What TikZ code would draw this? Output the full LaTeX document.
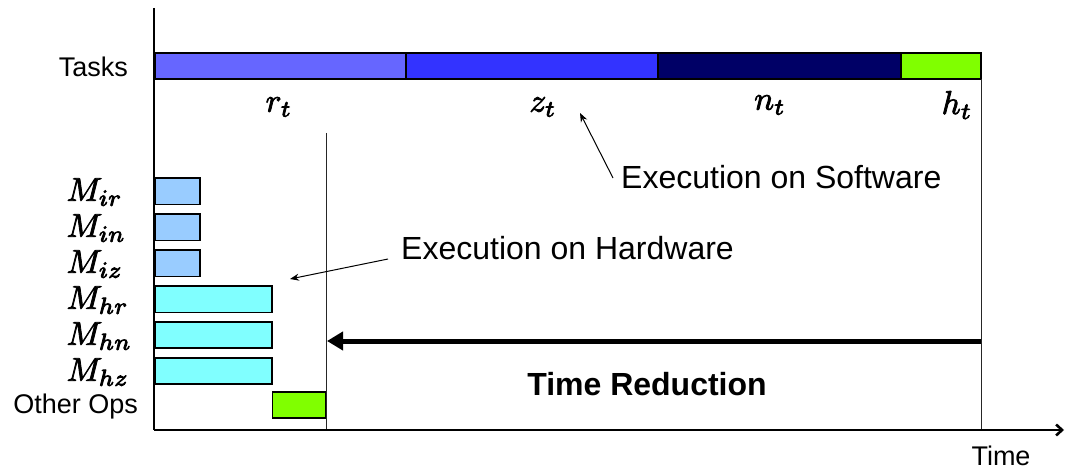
\RequirePackage{fix-cm}
\documentclass[tikz,border=0pt]{standalone}
\usepackage{fontspec}
\newfontfamily\arial{Liberation Sans}
\usetikzlibrary{arrows.meta}

\definecolor{rcol}{HTML}{6666FF}
\definecolor{zcol}{HTML}{3333FF}
\definecolor{ncol}{HTML}{000066}
\definecolor{hcol}{HTML}{80FF00}
\definecolor{icol}{HTML}{99CCFF}
\definecolor{mcol}{HTML}{80FFFF}

% slightly heavier glyphs: fill and stroke the outlines
\newcommand{\heavy}[1]{\special{pdf:literal direct 2 Tr 0.25 w}#1\special{pdf:literal direct 0 Tr}}

\tikzset{
  bar/.style={draw=black, line width=1.5pt},
  axis/.style={line width=2.6pt},
  guide/.style={line width=0.9pt, draw=black!85},
  note/.style={line width=1pt, -{Stealth[length=9pt,width=7pt]}},
  rowlabel/.style={anchor=east, inner sep=0pt},
  sans/.style={font=\arial\fontsize{27}{32}\selectfont},
  bigsans/.style={font=\arial\fontsize{32}{38}\selectfont},
  mathlbl/.style={font=\fontsize{10}{12}\selectfont, scale=3.3, inner sep=0pt},
}

\begin{document}
\begin{tikzpicture}[x=1pt, y=-1pt]
  \useasboundingbox (0,0) rectangle (1065,473);

  % task bar: software execution
  \fill[rcol] (155,53) rectangle (406,79);
  \fill[zcol] (406,53) rectangle (658,79);
  \fill[ncol] (658,53) rectangle (901,79);
  \fill[hcol] (901,53) rectangle (981,79);
  \draw[bar] (155,53) rectangle (981,79);
  \draw[bar] (406,53) -- (406,79) (658,53) -- (658,79) (901,53) -- (901,79);

  \node[mathlbl] (rt) at (279,107) {\heavy{$r_t$}};
  \node[mathlbl] (zt) at (543,107) {\heavy{$z_t$}};
  \node[mathlbl] (nt) at (770,105) {\heavy{$n_t$}};
  \node[mathlbl] (ht) at (957,105) {\heavy{$h_t$}};

  % hardware operations
  \draw[bar, fill=icol] (155,178) rectangle (200,204.5);
  \draw[bar, fill=icol] (155,214) rectangle (200,240.5);
  \draw[bar, fill=icol] (155,250) rectangle (200,276.5);
  \draw[bar, fill=mcol] (155,286) rectangle (272,312.5);
  \draw[bar, fill=mcol] (155,322) rectangle (272,348);
  \draw[bar, fill=mcol] (155,358) rectangle (272,384);
  \draw[bar, fill=hcol] (272.5,392) rectangle (326,418);

  % row labels
  \node[rowlabel, sans] (tasks) at (128,67) {Tasks};
  \node[mathlbl, anchor=west] (mir) at (66,192) {\heavy{$M_{ir}$}};
  \node[mathlbl, anchor=west] (min) at (66,228) {\heavy{$M_{in}$}};
  \node[mathlbl, anchor=west] (miz) at (66,264) {\heavy{$M_{iz}$}};
  \node[mathlbl, anchor=west] (mhr) at (66,300) {\heavy{$M_{hr}$}};
  \node[mathlbl, anchor=west] (mhn) at (66,336) {\heavy{$M_{hn}$}};
  \node[mathlbl, anchor=west] (mhz) at (66,372) {\heavy{$M_{hz}$}};
  \node[rowlabel, sans] (other) at (138,407) {Other Ops};

  % guide lines for the end of each execution
  \coordinate (hwtop) at (326,133);
  \coordinate (hwend) at (326,430);
  \coordinate (swtop) at (981,79);
  \coordinate (swend) at (981,430);
  \draw[guide] (hwtop) -- (hwend);
  \draw[guide] (swtop) -- (swend);

  % axes
  \coordinate (origin) at (154,430);
  \coordinate (ytop) at (154,8);
  \coordinate (xend) at (1064,430);
  \draw[axis] (ytop) -- (origin);
  \draw[line width=2.6pt, -{Straight Barb[length=6pt,width=11pt]}] (origin) -- (xend);
  \node[sans] (time) at (1001,456) {Time};

  % annotations
  \node[bigsans, anchor=west, inner sep=0pt] (sw) at (621,177) {Execution on Software};
  \coordinate (swtail) at (613,178);
  \coordinate (swhead) at (580,113);
  \draw[note] (swtail) -- (swhead);

  \node[bigsans, anchor=west, inner sep=0pt] (hw) at (401,248) {Execution on Hardware};
  \coordinate (hwtail) at (388,259);
  \coordinate (hwhead) at (290,279);
  \draw[note] (hwtail) -- (hwhead);

  % time reduction
  \coordinate (redstart) at (981,341);
  \coordinate (redend) at (327,341);
  \draw[line width=5pt, -{Triangle[length=16pt,width=18pt]}] (redstart) -- (redend);
  \node[font=\arial\bfseries\fontsize{32}{38}\selectfont] (red) at (647,384) {Time Reduction};
\end{tikzpicture}
\end{document}
